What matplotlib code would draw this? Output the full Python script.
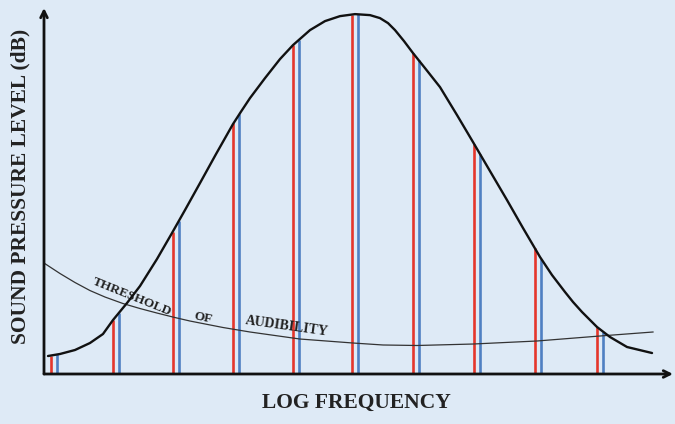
import numpy as np
import matplotlib
matplotlib.use("Agg")
import matplotlib.pyplot as plt

# ---- data (log-frequency units, dB) ----
bell_x = [-0.049, 0.148, 0.395, 0.641, 0.855, 1.020, 1.250, 1.464, 1.743, 1.990,
          2.204, 2.451, 2.714, 2.993, 3.125, 3.273, 3.520, 3.766, 3.980, 4.260, 4.507,
          4.753, 5.0, 5.247, 5.411, 5.543, 5.658, 5.806, 5.954, 6.151, 6.398, 6.678, 6.941,
          7.220, 7.500, 7.763, 8.043, 8.240, 8.454, 8.586, 8.734, 8.980, 9.194, 9.474, 9.885]
bell_y = [5.0, 5.56, 6.67, 8.61, 11.11, 15.0, 19.72, 24.44, 31.94, 39.17,
          45.56, 53.06, 61.11, 69.44, 72.9, 76.67, 82.22, 87.5, 91.39, 95.56, 98.06,
          99.44, 100.0, 99.72, 98.89, 97.5, 95.56, 92.5, 89.17, 85.0, 79.72, 71.94, 64.44,
          56.39, 48.33, 40.56, 32.5, 27.5, 22.78, 20.0, 17.22, 13.06, 10.28, 7.5, 5.83]

thr_x = [-0.115, 0.148, 0.395, 0.641, 0.888, 1.184, 1.464, 1.743, 2.039, 2.286,
         2.829, 3.273, 4.095, 4.967, 5.461, 6.020, 6.941, 7.993, 9.030, 9.901]
thr_y = [30.83, 27.92, 25.42, 23.19, 21.39, 19.58, 18.19, 16.94, 15.69, 14.72,
         12.92, 11.67, 9.72, 8.61, 8.06, 7.92, 8.33, 9.17, 10.56, 11.67]

line_x = [0.0, 1.02, 2.0, 3.0, 3.98, 4.95, 5.95, 6.96, 7.96, 8.98]   # red lines
blue_offset = 0.1

xlabel = "LOG FREQUENCY"
ylabel = "SOUND PRESSURE LEVEL (dB)"
thr_words = ["THRESHOLD", "OF", "AUDIBILITY"]

# ---- figure ----
bg = "#deeaf6"
fig = plt.figure(figsize=(6.75, 4.24), dpi=100, facecolor=bg)
W, H = 675, 424
ax = fig.add_axes([44 / W, (H - 374) / H, (673 - 44) / W, (374 - 8) / H])
ax.set_facecolor(bg)
x0, x1 = -0.115, 10.23
y0, y1 = 0, 101.7
ax.set_xlim(x0, x1)
ax.set_ylim(y0, y1)
for s in ax.spines.values():
    s.set_visible(False)
ax.set_xticks([])
ax.set_yticks([])

bx = np.array(bell_x)
by = np.array(bell_y)
red = "#e5362b"
blue = "#4f80c2"
for xv in line_x:
    ax.vlines(xv, 0, np.interp(xv, bx, by), color=red, lw=1.9, zorder=2)
    xb = xv + blue_offset
    ax.vlines(xb, 0, np.interp(xb, bx, by), color=blue, lw=1.9, zorder=2)

ax.plot(bell_x, bell_y, color="#111111", lw=1.7, zorder=4,
        solid_capstyle="round", solid_joinstyle="round")
ax.plot(thr_x, thr_y, color="#333333", lw=0.9, zorder=3,
        solid_joinstyle="round")

# axes arrows
ax.annotate("", xy=(x1, 0), xytext=(x0, 0), xycoords="data",
            arrowprops=dict(arrowstyle="->", lw=2.0, color="#111111",
                            mutation_scale=12, shrinkA=0, shrinkB=0),
            annotation_clip=False, zorder=5)
ax.annotate("", xy=(x0, y1), xytext=(x0, 0), xycoords="data",
            arrowprops=dict(arrowstyle="->", lw=2.0, color="#111111",
                            mutation_scale=12, shrinkA=0, shrinkB=0),
            annotation_clip=False, zorder=5)

serif = ["Liberation Serif", "DejaVu Serif"]
tkw = dict(family=serif, fontweight="bold", color="#222222",
           ha="center", va="center", rotation_mode="anchor")
ax.text(1.33, 21.4, thr_words[0], rotation=-22, fontsize=9.5, **tkw)
ax.text(2.5, 15.7, thr_words[1], rotation=-12, fontsize=9.5, **tkw)
ax.text(3.88, 13.1, thr_words[2], rotation=-8, fontsize=10, **tkw)

fig.text(356 / W, 1 - 403 / H, xlabel, family=serif, fontweight="bold",
         fontsize=15.5, color="#222222", ha="center", va="center")
fig.text(20 / W, 1 - 186 / H, ylabel, family=serif, fontweight="bold",
         fontsize=15.5, color="#222222", ha="center", va="center", rotation=90)

fig.savefig("out.png", dpi=100, facecolor=bg)
